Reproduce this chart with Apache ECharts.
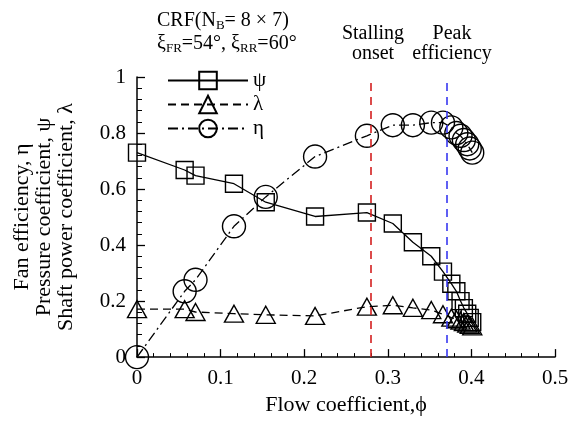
<!DOCTYPE html>
<html>
<head>
<meta charset="utf-8">
<script src="https://cdn.jsdelivr.net/npm/echarts@6/dist/echarts.min.js"></script>
<style>
  html, body { margin: 0; padding: 0; background: #fff; }
  #chart { width: 576px; height: 421px; }
</style>
</head>
<body>
<div id="chart"></div>
<script>
// Flow coefficient (shared by all three measured curves)
const phi = [0, 0.057, 0.07, 0.116, 0.154, 0.213, 0.275, 0.306, 0.33, 0.352, 0.366, 0.376, 0.382, 0.387, 0.391, 0.395, 0.398, 0.401];
// Pressure coefficient ψ
const psi = [0.73, 0.668, 0.648, 0.619, 0.553, 0.502, 0.516, 0.477, 0.41, 0.36, 0.305, 0.262, 0.235, 0.2, 0.175, 0.155, 0.14, 0.125];
// Shaft power coefficient λ
const lambda = [0.171, 0.171, 0.161, 0.155, 0.151, 0.147, 0.18, 0.185, 0.176, 0.168, 0.153, 0.141, 0.135, 0.13, 0.125, 0.12, 0.115, 0.11];
// Fan efficiency η
const eta = [0, 0.235, 0.276, 0.467, 0.572, 0.716, 0.79, 0.828, 0.828, 0.837, 0.837, 0.82, 0.80, 0.79, 0.775, 0.76, 0.745, 0.73];

// Reference operating points
const stallPhi = 0.275;
const peakPhi = 0.368;

const xTicks = { min: 0, max: 0.5, interval: 0.1 };
const yTicks = { min: 0, max: 1, interval: 0.2 };

const FONT = "'Liberation Serif', 'Times New Roman', serif";

const pairs = (ys) => phi.map((x, i) => [x, ys[i]]);

const chart = echarts.init(document.getElementById('chart'), null, { renderer: 'canvas' });

const hollow = { color: 'transparent', borderColor: '#000', borderWidth: 1.4 };

chart.setOption({
  animation: false,
  backgroundColor: '#fff',
  textStyle: { fontFamily: FONT, color: '#000' },
  grid: { left: 137, right: 21, top: 77, bottom: 59, containLabel: false },
  legend: {
    orient: 'vertical',
    left: 162,
    top: 65,
    itemWidth: 80,
    itemHeight: 22,
    itemGap: 3,
    textStyle: { fontFamily: FONT, fontSize: 21, color: '#000' },
    data: ['ψ', 'λ', 'η']
  },
  xAxis: {
    type: 'value',
    min: xTicks.min, max: xTicks.max, interval: xTicks.interval,
    name: 'Flow coefficient,ϕ',
    nameLocation: 'middle',
    nameGap: 30,
    nameTextStyle: { fontFamily: FONT, fontSize: 22, color: '#000' },
    axisLine: { show: true, onZero: false, lineStyle: { color: '#000', width: 1.5 } },
    axisTick: { show: true, inside: true, length: 8, lineStyle: { color: '#000', width: 1.3 } },
    minorTick: { show: true, splitNumber: 5, length: 4, lineStyle: { color: '#000', width: 1 } },
    axisLabel: { fontFamily: FONT, fontSize: 21, color: '#000', margin: 11 },
    splitLine: { show: false }
  },
  yAxis: {
    type: 'value',
    min: yTicks.min, max: yTicks.max, interval: yTicks.interval,
    name: 'Fan efficiency, η\nPressure coefficient, ψ\nShaft power coefficient, λ',
    nameLocation: 'middle',
    nameRotate: 90,
    nameGap: 60,
    nameTextStyle: { fontFamily: FONT, fontSize: 22, color: '#000', lineHeight: 22, align: 'center' },
    axisLine: { show: true, onZero: false, lineStyle: { color: '#000', width: 1.5 } },
    axisTick: { show: true, inside: true, length: 8, lineStyle: { color: '#000', width: 1.3 } },
    minorTick: { show: true, splitNumber: 5, length: 5, lineStyle: { color: '#000', width: 1 } },
    axisLabel: { fontFamily: FONT, fontSize: 21, color: '#000', margin: 11 },
    splitLine: { show: false }
  },
  series: [
    {
      name: 'ψ', type: 'line', data: pairs(psi),
      symbol: 'rect', symbolSize: 17,
      lineStyle: { color: '#000', width: 1.3, type: 'solid' },
      itemStyle: hollow,
      markLine: {
        silent: true, symbol: 'none', label: { show: false },
        data: [
          { xAxis: stallPhi, lineStyle: { color: '#d42020', width: 1.6, type: [8, 6] } },
          { xAxis: peakPhi, lineStyle: { color: '#3838f0', width: 1.6, type: [8, 6] } }
        ]
      }
    },
    {
      name: 'λ', type: 'line', data: pairs(lambda),
      symbol: 'triangle', symbolSize: [19, 17],
      lineStyle: { color: '#000', width: 1.3, type: [8, 5] },
      itemStyle: hollow
    },
    {
      name: 'η', type: 'line', data: pairs(eta),
      symbol: 'circle', symbolSize: 23,
      lineStyle: { color: '#000', width: 1.3, type: [10, 4, 2, 4] },
      itemStyle: hollow
    }
  ],
  graphic: [
    {
      type: 'text', left: 157, top: 11,
      style: {
        text: '{m|CRF(N}{s|B}{m|= 8 × 7)}\n{m|ξ}{s|FR}{m|=54°, ξ}{s|RR}{m|=60°}',
        rich: {
          m: { fontFamily: FONT, fontSize: 20, lineHeight: 23, fill: '#000' },
          s: { fontFamily: FONT, fontSize: 13, lineHeight: 13, fill: '#000', verticalAlign: 'bottom' }
        }
      }
    },
    {
      type: 'text', x: 373, y: 24,
      style: { text: 'Stalling\nonset', fontFamily: FONT, fontSize: 20, lineHeight: 20, fill: '#000', align: 'center', verticalAlign: 'top' }
    },
    {
      type: 'text', x: 452, y: 24,
      style: { text: 'Peak\nefficiency', fontFamily: FONT, fontSize: 20, lineHeight: 20, fill: '#000', align: 'center', verticalAlign: 'top' }
    }
  ]
});
</script>
</body>
</html>
